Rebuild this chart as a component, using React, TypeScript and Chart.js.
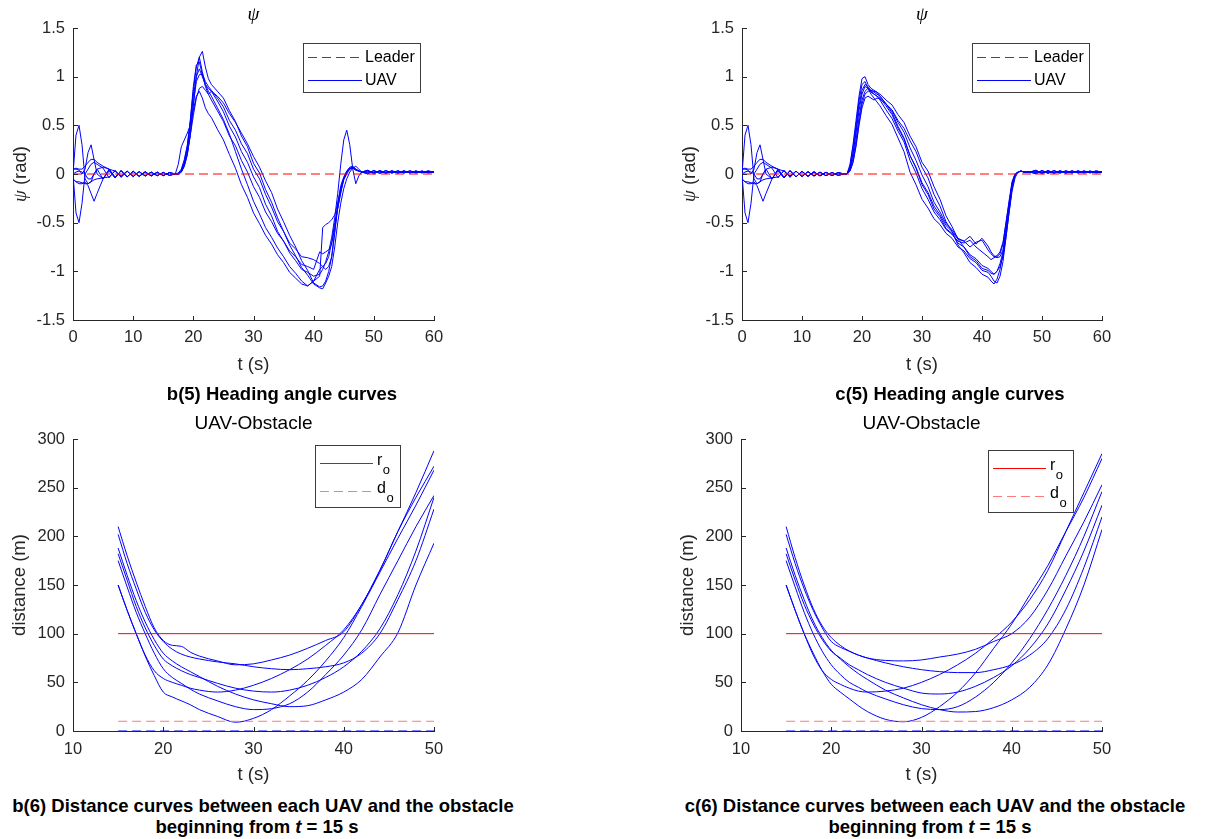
import React, { useEffect, useRef } from "react";
import { Chart, registerables } from "chart.js";
Chart.register(...registerables);

// ---------------- DATA ----------------
// Heading angle: initial phase (shared by both schemes), seconds
const T_INIT = [0, 0.5, 1, 1.5, 2, 2.5, 3, 3.5, 4, 5, 6, 7, 8, 9, 10, 11, 12, 13, 14, 15, 16, 17];
const INIT_1 = [0, 0.4, 0.5, 0.3, -0.05, -0.1, -0.08, 0.0, 0.05, -0.05, 0.045, -0.04, 0.035, -0.03, 0.03, -0.025, 0.025, -0.02, 0.02, -0.018, 0.015, 0];
const INIT_2 = [0, -0.4, -0.5, -0.3, 0.0, 0.05, 0.1, 0.12, 0.1, 0.06, -0.04, 0.04, -0.035, 0.03, -0.028, 0.025, -0.022, 0.02, -0.018, 0.016, -0.014, 0];
const INIT_3 = [0.05, 0.05, 0.04, 0.0, 0.05, 0.22, 0.3, 0.15, 0.0, -0.05, 0.05, -0.04, 0.035, -0.03, 0.028, -0.025, 0.022, -0.02, 0.018, -0.016, 0.014, 0];
const INIT_4 = [-0.05, -0.08, -0.1, -0.1, -0.08, -0.12, -0.2, -0.28, -0.2, -0.05, 0.03, -0.04, 0.035, -0.03, 0.028, -0.025, 0.022, -0.02, 0.018, -0.016, 0.014, 0];
const INIT_5 = [0.05, 0.06, 0.05, 0.05, 0.08, 0.12, 0.15, 0.15, 0.12, 0.08, 0.05, 0.03, -0.02, 0.03, -0.025, 0.025, -0.02, 0.02, -0.018, 0.016, -0.014, 0];
const INIT_6 = [-0.05, -0.08, -0.08, -0.09, -0.1, -0.1, -0.08, -0.06, -0.05, -0.04, -0.03, 0.03, -0.03, 0.028, -0.025, 0.022, -0.02, 0.018, -0.016, 0.015, -0.013, 0];
const INIT_7 = [0, 0.02, 0.03, 0.02, 0.0, -0.05, -0.05, 0.0, 0.05, 0.07, 0.05, -0.03, 0.03, -0.028, 0.025, -0.022, 0.02, -0.018, 0.016, -0.015, 0.013, 0];

// Heading angle: manoeuvre phase
const T_MAIN = [17.5, 18, 18.5, 19, 19.5, 20, 20.5, 21, 21.5, 22, 22.5, 23, 24, 25, 26, 27, 28, 29, 30, 31, 32, 33, 34, 35, 36, 37, 38, 39, 40, 41, 41.5, 42, 42.5, 43, 43.5, 44, 44.5, 45, 45.5, 46, 46.5, 47, 47.5, 48];
const B5_1 = [0.01, 0.05, 0.15, 0.3, 0.55, 0.85, 1.1, 1.2, 1.05, 0.92, 0.85, 0.8, 0.68, 0.56, 0.41, 0.23, 0.05, -0.11, -0.28, -0.41, -0.55, -0.65, -0.76, -0.85, -0.95, -1.02, -1.1, -1.15, -1.1, -0.98, -0.95, -0.92, -0.85, -0.7, -0.5, -0.35, -0.2, -0.05, 0.03, 0.07, 0.08, 0.05, 0.03, 0.02];
const B5_2 = [0, 0.02, 0.08, 0.2, 0.4, 0.7, 1.0, 1.2, 1.26, 1.1, 0.98, 0.92, 0.85, 0.78, 0.65, 0.54, 0.39, 0.28, 0.11, 0.01, -0.16, -0.29, -0.45, -0.59, -0.73, -0.84, -0.96, -1.04, -1.13, -1.17, -1.18, -1.12, -1.05, -0.95, -0.75, -0.5, -0.3, -0.15, -0.05, 0.02, 0.06, 0.08, 0.05, 0.02];
const B5_3 = [0, 0.03, 0.12, 0.25, 0.5, 0.8, 1.0, 1.08, 1.0, 0.92, 0.88, 0.85, 0.75, 0.64, 0.49, 0.38, 0.23, 0.12, -0.03, -0.14, -0.31, -0.43, -0.59, -0.69, -0.81, -0.89, -0.98, -1.01, -1.05, -1.03, -0.98, -0.9, -0.8, -0.65, -0.45, -0.2, 0.1, 0.35, 0.45, 0.3, 0.05, -0.1, -0.02, 0.02];
const B5_4 = [0, 0.02, 0.1, 0.22, 0.4, 0.6, 0.78, 0.88, 0.9, 0.86, 0.82, 0.85, 0.8, 0.73, 0.62, 0.53, 0.42, 0.31, 0.18, 0.07, -0.07, -0.19, -0.36, -0.49, -0.63, -0.75, -0.89, -0.99, -1.12, -1.16, -1.15, -1.1, -1.0, -0.85, -0.6, -0.35, -0.15, -0.05, 0.02, 0.06, 0.07, 0.05, 0.03, 0.02];
const B5_5 = [0.1, 0.28, 0.35, 0.42, 0.5, 0.65, 0.8, 0.85, 0.78, 0.68, 0.62, 0.58, 0.46, 0.35, 0.2, 0.06, -0.11, -0.24, -0.4, -0.51, -0.63, -0.72, -0.83, -0.91, -1.01, -1.07, -1.13, -1.15, -1.1, -1.05, -0.55, -0.52, -0.5, -0.47, -0.42, -0.3, -0.15, -0.05, 0.02, 0.05, 0.06, 0.04, 0.03, 0.02];
const B5_6 = [0, 0.04, 0.12, 0.28, 0.55, 0.9, 1.12, 1.15, 1.02, 0.9, 0.82, 0.76, 0.65, 0.54, 0.39, 0.29, 0.14, 0.02, -0.13, -0.24, -0.39, -0.49, -0.61, -0.69, -0.79, -0.85, -0.93, -0.95, -0.98, -0.8, -0.82, -0.8, -0.78, -0.72, -0.55, -0.35, -0.18, -0.06, 0.0, 0.05, 0.07, 0.05, 0.03, 0.02];
const B5_7 = [0, 0.02, 0.08, 0.2, 0.42, 0.72, 0.95, 1.02, 1.03, 0.95, 0.9, 0.86, 0.78, 0.69, 0.55, 0.45, 0.31, 0.21, 0.05, -0.05, -0.21, -0.34, -0.49, -0.59, -0.71, -0.77, -0.85, -0.86, -0.88, -0.92, -0.95, -0.98, -0.95, -0.85, -0.6, -0.3, -0.12, -0.03, 0.03, 0.06, 0.06, 0.04, 0.03, 0.02];

const C5_1 = [0, 0.1, 0.3, 0.55, 0.8, 0.98, 1.0, 0.92, 0.88, 0.86, 0.84, 0.8, 0.72, 0.63, 0.49, 0.37, 0.19, 0.06, -0.11, -0.21, -0.36, -0.44, -0.56, -0.61, -0.71, -0.75, -0.83, -0.87, -0.94, -0.97, -1.0, -1.03, -1.0, -0.92, -0.8, -0.6, -0.38, -0.15, -0.02, 0.02, 0.03, 0.02, 0.025, 0.02];
const C5_2 = [0, 0.08, 0.28, 0.5, 0.75, 0.92, 0.95, 0.88, 0.82, 0.78, 0.74, 0.7, 0.6, 0.51, 0.37, 0.23, 0.02, -0.11, -0.26, -0.35, -0.46, -0.52, -0.61, -0.66, -0.75, -0.79, -0.87, -0.91, -0.99, -1.01, -1.05, -1.1, -1.12, -1.05, -0.9, -0.65, -0.4, -0.18, -0.04, 0.02, 0.03, 0.02, 0.02, 0.02];
const C5_3 = [0, 0.05, 0.2, 0.42, 0.65, 0.82, 0.9, 0.88, 0.84, 0.82, 0.8, 0.76, 0.66, 0.57, 0.44, 0.33, 0.14, 0.01, -0.15, -0.26, -0.39, -0.47, -0.57, -0.62, -0.69, -0.71, -0.68, -0.75, -0.8, -0.85, -0.88, -0.86, -0.85, -0.82, -0.72, -0.5, -0.3, -0.1, 0.0, 0.02, 0.03, 0.02, 0.02, 0.02];
const C5_4 = [0, 0.04, 0.16, 0.35, 0.58, 0.76, 0.85, 0.88, 0.86, 0.84, 0.82, 0.8, 0.72, 0.65, 0.53, 0.43, 0.27, 0.14, -0.01, -0.13, -0.29, -0.39, -0.51, -0.57, -0.66, -0.69, -0.75, -0.7, -0.68, -0.78, -0.82, -0.85, -0.84, -0.8, -0.7, -0.5, -0.28, -0.08, 0.0, 0.02, 0.03, 0.02, 0.02, 0.02];
const C5_5 = [0, 0.03, 0.12, 0.3, 0.52, 0.72, 0.82, 0.85, 0.86, 0.85, 0.84, 0.82, 0.76, 0.71, 0.61, 0.53, 0.39, 0.28, 0.12, 0.03, -0.13, -0.26, -0.43, -0.54, -0.67, -0.75, -0.85, -0.89, -0.97, -0.99, -1.02, -1.03, -1.0, -0.95, -0.85, -0.65, -0.4, -0.15, -0.02, 0.02, 0.03, 0.02, 0.02, 0.02];
const C5_6 = [0, 0.03, 0.12, 0.28, 0.5, 0.68, 0.78, 0.8, 0.78, 0.76, 0.78, 0.77, 0.72, 0.66, 0.55, 0.47, 0.34, 0.23, 0.07, -0.04, -0.21, -0.33, -0.49, -0.59, -0.73, -0.81, -0.91, -0.96, -1.03, -1.06, -1.1, -1.13, -1.08, -0.98, -0.82, -0.6, -0.35, -0.12, -0.01, 0.02, 0.03, 0.02, 0.02, 0.02];
const C5_7 = [0, 0.06, 0.22, 0.45, 0.7, 0.86, 0.92, 0.9, 0.85, 0.82, 0.8, 0.78, 0.7, 0.61, 0.47, 0.36, 0.19, 0.07, -0.09, -0.19, -0.33, -0.42, -0.53, -0.59, -0.67, -0.69, -0.64, -0.72, -0.66, -0.74, -0.8, -0.84, -0.86, -0.85, -0.78, -0.55, -0.32, -0.1, 0.0, 0.02, 0.03, 0.02, 0.02, 0.02];

// Heading angle: settled tail (shared)
const T_TAIL = [49, 50, 51, 52, 53, 54, 55, 56, 57, 58, 59, 60];
const TAIL_1 = [0.035, 0.01, 0.035, 0.01, 0.033, 0.012, 0.033, 0.012, 0.032, 0.013, 0.032, 0.02];
const TAIL_2 = [0.005, 0.035, 0.008, 0.035, 0.01, 0.033, 0.01, 0.033, 0.012, 0.031, 0.012, 0.02];
const TAIL_3 = [0.04, 0.0, 0.035, 0.005, 0.032, 0.008, 0.032, 0.01, 0.03, 0.012, 0.03, 0.02];
const TAIL_4 = [0.0, 0.038, 0.005, 0.035, 0.008, 0.033, 0.01, 0.032, 0.01, 0.03, 0.012, 0.02];
const TAIL_5 = [0.028, 0.015, 0.028, 0.015, 0.028, 0.015, 0.027, 0.016, 0.027, 0.016, 0.026, 0.02];
const TAIL_6 = [0.015, 0.03, 0.012, 0.032, 0.013, 0.03, 0.013, 0.03, 0.014, 0.029, 0.015, 0.02];
const TAIL_7 = [0.035, 0.008, 0.032, 0.01, 0.032, 0.01, 0.03, 0.012, 0.03, 0.012, 0.029, 0.02];

const LEADER_T = [0, 60];
const LEADER_PSI = [0, 0];

// Distance to obstacle (from t = 15 s)
const T_DIST = [15, 16, 17, 18, 19, 20, 21, 22, 23, 24, 26, 28, 30, 32, 34, 36, 38, 40, 42, 44, 46, 48, 50];
const B6_1 = [150, 124, 100, 77, 57, 40, 35, 31, 27, 22, 15, 9, 13, 22, 36, 52, 72, 96, 128, 163, 198, 232, 268];
const B6_2 = [150, 124, 100, 78, 62, 54, 50, 47, 44, 42, 40, 42, 47, 54, 63, 74, 88, 104, 130, 165, 205, 245, 288];
const B6_3 = [175, 148, 122, 100, 80, 64, 55, 49, 43, 38, 31, 25, 22, 23, 28, 40, 58, 78, 104, 140, 175, 210, 242];
const B6_4 = [182, 155, 128, 106, 88, 74, 67, 62, 58, 55, 49, 44, 41, 40, 42, 47, 55, 66, 82, 105, 140, 185, 240];
const B6_5 = [188, 160, 134, 112, 94, 80, 72, 66, 61, 56, 46, 38, 32, 28, 25, 26, 32, 40, 53, 76, 101, 150, 193];
const B6_6 = [202, 172, 146, 122, 104, 92, 84, 79, 76, 74, 71, 69, 66, 64, 63, 64, 66, 70, 80, 100, 135, 175, 228];
const B6_7 = [210, 180, 153, 128, 106, 93, 88, 87, 81, 77, 72, 68, 69, 73, 78, 85, 93, 102, 130, 165, 205, 240, 272];

const C6_1 = [150, 124, 100, 80, 62, 48, 40, 33, 26, 20, 12, 9.5, 14, 25, 40, 60, 85, 110, 140, 170, 205, 240, 280];
const C6_2 = [150, 124, 100, 78, 62, 53, 48, 44, 41, 40, 41, 44, 50, 58, 68, 80, 95, 112, 135, 165, 205, 245, 285];
const C6_3 = [175, 148, 122, 100, 82, 68, 58, 50, 45, 40, 33, 27, 23, 22, 25, 35, 50, 70, 95, 125, 160, 200, 246];
const C6_4 = [182, 155, 130, 110, 94, 82, 75, 68, 63, 58, 50, 44, 39, 38, 40, 46, 55, 67, 85, 110, 145, 185, 232];
const C6_5 = [188, 160, 135, 113, 96, 83, 74, 66, 59, 53, 42, 34, 27, 22, 19.5, 20, 24, 32, 45, 68, 105, 150, 207];
const C6_6 = [202, 172, 146, 124, 106, 92, 86, 82, 78, 75, 70, 66, 63, 61, 60, 60, 63, 68, 78, 95, 125, 168, 220];
const C6_7 = [210, 178, 150, 126, 108, 96, 88, 82, 78, 75, 72.5, 72, 73, 76, 79, 84, 92, 100, 117, 145, 180, 215, 253];

const OBST_T = [15, 50];
const R_O = [100, 100];
const D_O = [10, 10];
const ZERO_LINE = [0, 0];

const INIT_SET = [INIT_1, INIT_2, INIT_3, INIT_4, INIT_5, INIT_6, INIT_7];
const TAIL_SET = [TAIL_1, TAIL_2, TAIL_3, TAIL_4, TAIL_5, TAIL_6, TAIL_7];
const B5_SET = [B5_1, B5_2, B5_3, B5_4, B5_5, B5_6, B5_7];
const C5_SET = [C5_1, C5_2, C5_3, C5_4, C5_5, C5_6, C5_7];
const B6_SET = [B6_1, B6_2, B6_3, B6_4, B6_5, B6_6, B6_7];
const C6_SET = [C6_1, C6_2, C6_3, C6_4, C6_5, C6_6, C6_7];

// ---------------- STYLE ----------------
const INK = "#262626";
const SANS = "'Liberation Sans', Arial, Helvetica, sans-serif";
const SERIF = "'Liberation Serif', 'Times New Roman', serif";
const TICK_FONT = { family: SANS, size: 16.5 };
const LABEL_FONT = { family: SANS, size: 18.5 };
const BLUE = "#0000ff";
const RED = "#ff0000";
const LIGHT_RED = "#ff7a7a";

const pts = (xs: number[], ys: number[]) => xs.map((x, i) => ({ x, y: ys[i] }));

type LegendItem = { label: string; sub?: string; swatch: string; dashed?: boolean; y: number };
type LegendSpec = { left: number; top: number; width: number; height: number; lineFrom: number; lineTo: number; textX: number; items: LegendItem[] };
type DecorSpec = { title: string; titleFont: string; titleY: number; yParts: { text: string; font: string }[] | null; yLabelX: number; legend: LegendSpec };

function makeDecor(d: DecorSpec) {
  return {
    id: "decor",
    afterDatasetsDraw(chart: any) {
      const ctx: CanvasRenderingContext2D = chart.ctx;
      const ca = chart.chartArea;
      const xs = chart.scales.x;
      const ys = chart.scales.y;
      ctx.save();
      ctx.setLineDash([]);
      // inward tick marks (drawn as 1px rects)
      ctx.fillStyle = INK;
      for (const t of xs.ticks) {
        const px = Math.round(xs.getPixelForValue(t.value));
        ctx.fillRect(px, Math.round(ca.bottom) - 4, 1, 4);
      }
      for (const t of ys.ticks) {
        const py = Math.round(ys.getPixelForValue(t.value));
        ctx.fillRect(Math.round(ca.left), py, 5, 1);
      }

      // legend box
      const lg = d.legend;
      const bx = Math.round(ca.left + lg.left);
      const by = Math.round(ca.top + lg.top);
      ctx.fillStyle = "#ffffff";
      ctx.fillRect(bx, by, lg.width, lg.height);
      ctx.fillStyle = "#3c3c3c";
      ctx.fillRect(bx, by, lg.width, 1);
      ctx.fillRect(bx, by + lg.height, lg.width + 1, 1);
      ctx.fillRect(bx, by, 1, lg.height);
      ctx.fillRect(bx + lg.width, by, 1, lg.height);
      for (const it of lg.items) {
        const y = Math.round(by + it.y);
        ctx.fillStyle = it.swatch;
        const xa = bx + lg.lineFrom;
        const xb = bx + lg.lineTo;
        if (it.dashed) {
          for (let x = xa; x < xb; x += 14) {
            ctx.fillRect(x, y, Math.min(9, xb - x), 1);
          }
        } else {
          ctx.fillRect(xa, y, xb - xa, 1);
        }
        ctx.fillStyle = "#000000";
        ctx.textAlign = "left";
        ctx.textBaseline = "middle";
        ctx.font = `16px ${SANS}`;
        const ty = it.sub ? y - 2.5 : y + 0.5;
        ctx.fillText(it.label, bx + lg.textX, ty);
        if (it.sub) {
          const w = ctx.measureText(it.label).width;
          ctx.font = `13px ${SANS}`;
          ctx.fillText(it.sub, bx + lg.textX + w + 0.5, y + 7.5);
        }
      }

      // title
      ctx.fillStyle = "#000000";
      ctx.textAlign = "center";
      ctx.textBaseline = "middle";
      ctx.font = d.titleFont;
      ctx.fillText(d.title, (ca.left + ca.right) / 2, d.titleY);

      // mixed-font y label
      if (d.yParts) {
        ctx.save();
        ctx.translate(d.yLabelX, (ca.top + ca.bottom) / 2);
        ctx.rotate(-Math.PI / 2);
        let total = 0;
        const widths = d.yParts.map((p) => {
          ctx.font = p.font;
          const w = ctx.measureText(p.text).width;
          total += w;
          return w;
        });
        let x = -total / 2;
        ctx.textAlign = "left";
        ctx.fillStyle = INK;
        d.yParts.forEach((p, i) => {
          ctx.font = p.font;
          ctx.fillText(p.text, x, 0);
          x += widths[i];
        });
        ctx.restore();
      }
      ctx.restore();
    },
  };
}

type PanelSpec = {
  kind: "psi" | "dist";
  left: number;
  top: number;
  width: number;
  height: number;
  padTop: number;
  plotW: number;
  plotH: number;
  xTickPad: number;
  titleY: number;
  legend: LegendSpec;
  main: number[][];
};

const YAXIS_W = 73;

function buildConfig(p: PanelSpec): any {
  const datasets: any[] = [];
  if (p.kind === "psi") {
    datasets.push({
      data: pts(LEADER_T, LEADER_PSI),
      borderColor: RED,
      borderWidth: 1,
      borderDash: [9, 5],
      pointRadius: 0,
    });
    p.main.forEach((m, k) => {
      datasets.push({
        data: [...pts(T_INIT, INIT_SET[k]), ...pts(T_MAIN, m), ...pts(T_TAIL, TAIL_SET[k])],
        borderColor: BLUE,
        borderWidth: 1,
        pointRadius: 0,
        tension: 0,
      });
    });
  } else {
    datasets.push({ data: pts(OBST_T, R_O), borderColor: RED, borderWidth: 1, pointRadius: 0 });
    datasets.push({ data: pts(OBST_T, D_O), borderColor: LIGHT_RED, borderWidth: 1, borderDash: [9, 5], pointRadius: 0 });
    p.main.forEach((m) => {
      datasets.push({
        data: pts(T_DIST, m),
        borderColor: BLUE,
        borderWidth: 1,
        pointRadius: 0,
        cubicInterpolationMode: "monotone",
      });
    });
    datasets.push({
      data: pts(OBST_T, ZERO_LINE),
      borderColor: BLUE,
      borderWidth: 1,
      borderDash: [9, 5],
      pointRadius: 0,
      clip: false,
    });
  }
  const isPsi = p.kind === "psi";
  const xAxisH = p.height - p.padTop - p.plotH;
  const decor = makeDecor({
    title: isPsi ? "\u03C8" : "UAV-Obstacle",
    titleFont: isPsi ? `italic 19px ${SERIF}` : `19px ${SANS}`,
    titleY: p.titleY,
    yParts: isPsi
      ? [
          { text: "\u03C8", font: `italic 19px ${SERIF}` },
          { text: " (rad)", font: `18.5px ${SANS}` },
        ]
      : null,
    yLabelX: 21,
    legend: p.legend,
  });
  return {
    type: "line",
    data: { datasets },
    plugins: [decor],
    options: {
      responsive: false,
      animation: false,
      events: [],
      layout: { padding: { top: p.padTop, right: p.width - YAXIS_W - p.plotW, left: 0, bottom: 0 } },
      plugins: {
        legend: { display: false },
        tooltip: { enabled: false },
      },
      scales: {
        x: {
          type: "linear",
          min: isPsi ? 0 : 10,
          max: isPsi ? 60 : 50,
          ticks: {
            stepSize: 10,
            autoSkip: false,
            maxRotation: 0,
            padding: p.xTickPad,
            color: INK,
            font: TICK_FONT,
            callback: (v: number) => String(v),
          },
          grid: { display: false, drawTicks: false },
          border: { display: true, color: INK, width: 1 },
          title: { display: true, text: "t (s)", color: INK, font: LABEL_FONT, padding: { top: 0, bottom: 3.5 } },
          afterFit: (s: any) => {
            s.height = xAxisH;
          },
        },
        y: {
          type: "linear",
          min: isPsi ? -1.5 : 0,
          max: isPsi ? 1.5 : 300,
          ticks: {
            stepSize: isPsi ? 0.5 : 50,
            autoSkip: false,
            padding: 8,
            color: INK,
            font: TICK_FONT,
            callback: (v: number) => String(Math.round(v * 100) / 100),
          },
          grid: { display: false, drawTicks: false },
          border: { display: true, color: INK, width: 1 },
          title: {
            display: !isPsi,
            text: "distance (m)",
            color: INK,
            font: LABEL_FONT,
            padding: { top: 9, bottom: 0 },
          },
          afterFit: (s: any) => {
            s.width = YAXIS_W;
          },
        },
      },
    },
  };
}

const psiLegend = (): LegendSpec => ({
  left: 230,
  top: 15,
  width: 117,
  height: 49,
  lineFrom: 5,
  lineTo: 59,
  textX: 62,
  items: [
    { label: "Leader", swatch: RED, dashed: true, y: 14 },
    { label: "UAV", swatch: BLUE, y: 37 },
  ],
});
const distLegend = (left: number, top: number): LegendSpec => ({
  left,
  top,
  width: 85,
  height: 62,
  lineFrom: 5,
  lineTo: 58,
  textX: 62,
  items: [
    { label: "r", sub: "o", swatch: RED, y: 18 },
    { label: "d", sub: "o", swatch: LIGHT_RED, dashed: true, y: 46 },
  ],
});

const PANELS: PanelSpec[] = [
  { kind: "psi", left: 0, top: 0, width: 460, height: 380, padTop: 28, plotW: 361, plotH: 292, xTickPad: 8, titleY: 15, legend: psiLegend(), main: B5_SET },
  { kind: "psi", left: 669, top: 0, width: 460, height: 380, padTop: 28, plotW: 360, plotH: 292, xTickPad: 8, titleY: 15, legend: psiLegend(), main: C5_SET },
  { kind: "dist", left: 0, top: 400, width: 460, height: 390, padTop: 39, plotW: 361, plotH: 292, xTickPad: 9, titleY: 24, legend: distLegend(242, 6), main: B6_SET },
  { kind: "dist", left: 668, top: 400, width: 460, height: 390, padTop: 39, plotW: 361, plotH: 292, xTickPad: 9, titleY: 24, legend: distLegend(247, 11), main: C6_SET },
];

function Panel({ spec }: { spec: PanelSpec }) {
  const ref = useRef<HTMLCanvasElement | null>(null);
  useEffect(() => {
    if (!ref.current) return;
    const chart = new Chart(ref.current, buildConfig(spec));
    return () => chart.destroy();
  }, [spec]);
  return (
    <canvas
      ref={ref}
      width={spec.width}
      height={spec.height}
      style={{ position: "absolute", left: spec.left, top: spec.top, width: spec.width, height: spec.height }}
    />
  );
}

const captionStyle = (x: number, y: number): React.CSSProperties => ({
  position: "absolute",
  left: x,
  top: y,
  transform: "translate(-50%, -50%)",
  whiteSpace: "nowrap",
  fontFamily: SANS,
  fontWeight: "bold",
  fontSize: "18.5px",
  color: "#000",
  lineHeight: 1,
});

export default function App() {
  return (
    <div style={{ position: "absolute", left: 0, top: 0, width: 1210, height: 839, background: "#fff", overflow: "hidden" }}>
      {PANELS.map((s, i) => (
        <Panel key={i} spec={s} />
      ))}
      <div style={captionStyle(282, 394)}>b(5) Heading angle curves</div>
      <div style={captionStyle(950, 394)}>c(5) Heading angle curves</div>
      <div style={captionStyle(263, 806)}>b(6) Distance curves between each UAV and the obstacle</div>
      <div style={captionStyle(257, 827)}>
        beginning from <i>t</i> = 15 s
      </div>
      <div style={captionStyle(935, 806)}>c(6) Distance curves between each UAV and the obstacle</div>
      <div style={captionStyle(930, 827)}>
        beginning from <i>t</i> = 15 s
      </div>
    </div>
  );
}
